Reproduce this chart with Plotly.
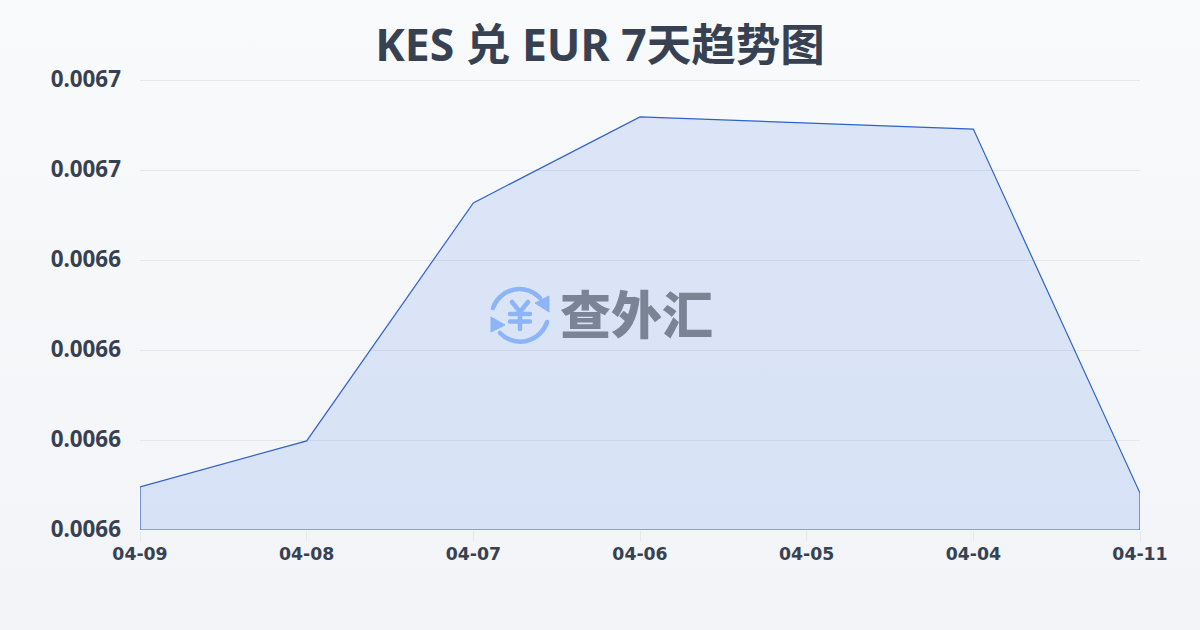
import base64
import plotly.graph_objects as go

categories = ["04-09", "04-08", "04-07", "04-06", "04-05", "04-04", "04-11"]
point_dates = ["04-09", "04-08", "04-07", "04-06", "04-04", "04-11"]
rates = [0.0065896, 0.0065998, 0.0066527, 0.0066718, 0.0066691, 0.0065882]
y_ticks = [0.00658, 0.0066, 0.00662, 0.00664, 0.00666, 0.00668]
y_tick_labels = ["0.0066", "0.0066", "0.0066", "0.0066", "0.0067", "0.0067"]
title_text = "KES 兑 EUR 7天趋势图"
watermark_text = "查外汇"

LINE = "#2f62c9"
INK = "#374151"

bg_svg = ('<svg xmlns="http://www.w3.org/2000/svg" width="1200" height="630">'
          '<defs><linearGradient id="g" x1="0" y1="0" x2="0" y2="1">'
          '<stop offset="0" stop-color="#f8fafc"/><stop offset="1" stop-color="#f2f4f7"/>'
          '</linearGradient></defs><rect width="1200" height="630" fill="url(#g)"/></svg>')
icon_svg = ('<svg xmlns="http://www.w3.org/2000/svg" width="60" height="60" viewBox="0 0 60 60">'
            '<g fill="none" stroke="#8db4f6" stroke-width="4.5" stroke-linecap="round" stroke-linejoin="round">'
            '<path d="M3 23 A28 28 0 0 1 50 13"/><path d="M57 37 A28 28 0 0 1 10 48"/>'
            '<path d="M22 17 L30 27 L38 17 M20 29 H40 M20 36.5 H40 M30 27 V44"/></g>'
            '<path d="M59 11 L59 27 L45 18 Z M1 32 L1 47 L15 40 Z" fill="#8db4f6" stroke="#8db4f6" stroke-linejoin="round"/></svg>')


def uri(svg):
    return "data:image/svg+xml;base64," + base64.b64encode(svg.encode()).decode()


# plot area is 453 px tall: extra pixels above the top gridline so Plotly keeps it
EXTRA = 3
PH = 450.0 + EXTRA
PTOP = 80.0 - EXTRA

fig = go.Figure()
fig.add_trace(go.Scatter(
    x=point_dates + [point_dates[-1], point_dates[0], point_dates[0]],
    y=rates + [y_ticks[0], y_ticks[0], rates[0]],
    mode="lines",
    line=dict(color=LINE, width=1.2),
    fill="toself",
    fillcolor="rgba(37,99,235,0.13)",
    hoverinfo="skip",
    showlegend=False,
))


def py(pixel):
    return (530 - pixel) / PH


fig.update_layout(
    width=1200,
    height=630,
    autosize=False,
    margin=dict(l=140, r=60, t=PTOP, b=100),
    paper_bgcolor="rgba(0,0,0,0)",
    plot_bgcolor="rgba(0,0,0,0)",
    title=dict(text=title_text, x=0.5, xref="container", xanchor="center", y=0.928, yanchor="middle",
               font=dict(family="Noto Sans, Noto Sans CJK SC", size=44.5, color=INK, weight=700)),
    xaxis=dict(
        type="category", categoryorder="array", categoryarray=categories,
        tickvals=categories, ticktext=categories,
        range=[0, len(categories) - 1],
        showgrid=False, zeroline=False, showline=False,
        ticks="outside", ticklen=10, tickwidth=1, tickcolor="#e5e7eb",
        ticklabelstandoff=-2,
        tickfont=dict(family="DejaVu Sans", size=17.3, color=INK, weight=700),
    ),
    yaxis=dict(
        range=[y_ticks[0], y_ticks[-1] + (y_ticks[-1] - y_ticks[0]) * EXTRA / 450],
        tickmode="array", tickvals=y_ticks, ticktext=y_tick_labels,
        showgrid=True, gridcolor="#e5e7eb", gridwidth=1, zeroline=False, showline=False,
        ticks="", ticklabelstandoff=18, ticklabelshift=-1,
        tickfont=dict(family="Noto Sans", size=22.4, color=INK, weight=700),
    ),
    images=[
        dict(source=uri(bg_svg), xref="paper", yref="paper", x=-140 / 1000, y=py(0),
             sizex=1.2, sizey=630 / PH, xanchor="left", yanchor="top", sizing="stretch", layer="below"),
        dict(source=uri(icon_svg), xref="paper", yref="paper", x=(490 - 140) / 1000, y=py(285),
             sizex=0.06, sizey=60 / PH, xanchor="left", yanchor="top", sizing="stretch", layer="above"),
    ],
    annotations=[dict(
        text=watermark_text, xref="paper", yref="paper", x=(636 - 140) / 1000, y=py(312),
        xanchor="center", yanchor="middle", showarrow=False,
        font=dict(family="Noto Sans CJK SC", size=51, color="#7a8494", weight=900),
    )],
)
fig.write_html("out.html", config={"displayModeBar": False},
               post_script="document.body.style.margin='0';document.body.style.overflow='hidden';")
